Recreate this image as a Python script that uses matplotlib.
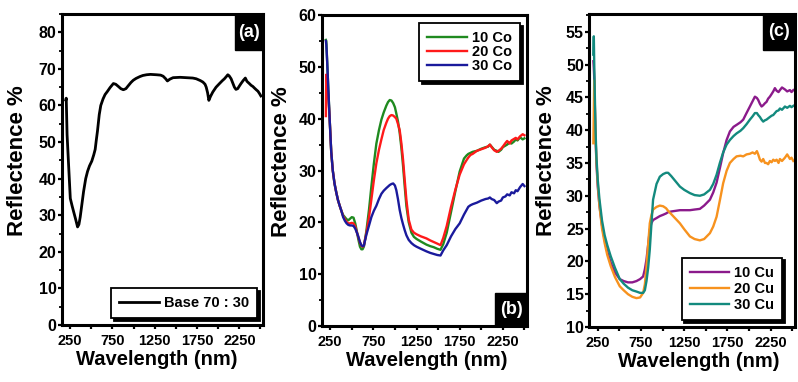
import matplotlib
matplotlib.use("Agg")
import matplotlib.pyplot as plt
from matplotlib.patches import Rectangle
from matplotlib.ticker import MultipleLocator
from matplotlib import font_manager

# ---- panel (a): base glass ----
wl_a = [200, 205, 215, 233, 253, 275, 292, 315, 339, 355, 370, 390, 410, 435, 457, 480,
        507, 530, 547, 560, 574, 595, 613, 640, 664, 690, 723, 762, 790, 821, 850, 880,
        910, 938, 970, 997, 1030, 1075, 1110, 1154, 1200, 1271, 1320, 1350, 1380, 1400,
        1430, 1467, 1550, 1624, 1700, 1741, 1790, 1820, 1845, 1859, 1875, 1890, 1910,
        1937, 1975, 2016, 2050, 2074, 2100, 2114, 2130, 2153, 2175, 2192, 2210, 2231,
        2250, 2270, 2295, 2321, 2340, 2368, 2390, 2410, 2427, 2450, 2470, 2490, 2505]
base_7030 = [61.5, 62.0, 52, 43.7, 34.6, 32.5, 31, 29, 26.8, 27.5, 29.5, 33, 36.5, 40, 42,
             43.5, 44.8, 46.5, 48, 50.5, 53, 57.5, 60, 61.8, 63, 63.8, 64.9, 66, 65.8,
             65.2, 64.6, 64.3, 64.6, 65.4, 66.3, 66.9, 67.4, 67.9, 68.2, 68.4, 68.5, 68.4,
             68.3, 68.0, 67.3, 66.7, 67.2, 67.6, 67.7, 67.6, 67.5, 67.3, 66.8, 66.4, 65.8,
             65.0, 63.5, 61.4, 62.5, 63.7, 65, 66, 66.8, 67.3, 68.0, 68.4, 68.1, 67.3, 66,
             65, 64.4, 64.6, 65.3, 66, 66.8, 67.5, 66.6, 66, 65.5, 65.2, 64.8, 64.3, 63.9,
             63.2, 62.6]

# ---- panel (b): Co doped ----
wl_b = [200, 205, 215, 230, 245, 262, 280, 300, 320, 340, 360, 380, 400, 420, 440, 460,
        480, 500, 520, 540, 555, 575, 595, 611, 625, 640, 669, 700, 727, 755, 785, 815,
        843, 870, 900, 920, 940, 960, 980, 1000, 1016, 1035, 1055, 1075, 1094, 1113,
        1133, 1160, 1191, 1220, 1250, 1300, 1365, 1410, 1450, 1490, 1528, 1560, 1600,
        1650, 1700, 1750, 1800, 1830, 1850, 1875, 1900, 1950, 2000, 2050, 2080, 2100,
        2120, 2150, 2180, 2200, 2230, 2250, 2280, 2300, 2330, 2350, 2380, 2400, 2420,
        2450, 2480, 2500]
co_10 = [55.2, 55.0, 51, 45, 39.5, 33.6, 30, 27.5, 25.8, 24.3, 23.2, 22.2, 21.4, 21.0,
         20.6, 20.4, 20.7, 21.0, 20.9, 19.8, 18.6, 16.8, 15.3, 14.8, 14.8, 15.3, 18.3,
         22.5, 26.9, 31.2, 35.2, 37.8, 39.8, 41.2, 42.5, 43.2, 43.6, 43.5, 43.0, 42.2,
         41.0, 39.5, 37.3, 34.3, 30.9, 27.0, 23.1, 20.0, 18.0, 17.2, 16.8, 16.3, 15.7,
         15.4, 15.2, 14.9, 14.7, 15.8, 18.0, 22.0, 26.0, 29.8, 32.3, 32.9, 33.2, 33.4,
         33.6, 33.8, 34.2, 34.5, 34.6, 35.0, 34.6, 34.0, 33.8, 33.6, 34.0, 34.5, 34.8,
         35.0, 35.4, 35.2, 35.6, 36.0, 35.8, 36.4, 36.0, 36.2]
co_20 = [40.5, 48.5, 47, 44, 39.5, 33.6, 30, 27.5, 25.8, 24.3, 23.2, 22.2, 21.2, 20.6,
         20.1, 19.8, 19.8, 19.9, 19.8, 19.2, 18.3, 17.2, 16.1, 15.5, 15.3, 15.5, 17.9,
         21.0, 24.4, 28.0, 31.4, 34.0, 36.0, 37.8, 39.2, 40.0, 40.5, 40.7, 40.6, 40.3,
         40.0, 39.0, 37.8, 35.2, 32.1, 28.2, 24.3, 20.5, 18.6, 18.0, 17.7, 17.3, 16.9,
         16.5, 16.2, 15.9, 15.6, 17.0, 19.3, 23.0, 26.3, 29.2, 31.2, 32.0, 32.5, 33.0,
         33.2, 33.8, 34.1, 34.4, 34.7, 35.0, 34.5, 33.9, 33.6, 33.8, 34.2, 34.6, 35.3,
         35.7, 35.2, 35.8, 36.1, 36.3, 36.0, 36.6, 37.0, 36.8]
co_30 = [55.0, 54.3, 51, 45, 39.5, 33.6, 30, 27.5, 25.8, 24.3, 23.2, 22.2, 21.0, 20.3,
         19.8, 19.5, 19.4, 19.4, 19.3, 18.8, 18.2, 17.3, 16.2, 15.6, 15.4, 15.5, 17.6,
         19.4, 21.0, 22.2, 23.2, 24.5, 25.5, 26.1, 26.6, 26.9, 27.2, 27.4, 27.5, 27.1,
         26.2, 24.5, 22.4, 20.8, 19.6, 18.5, 17.5, 16.6, 16.0, 15.6, 15.3, 14.9, 14.4,
         14.1, 13.9, 13.7, 13.6, 14.6, 15.6, 17.3, 18.7, 19.8, 21.5, 22.4, 23.0, 23.3,
         23.5, 23.8, 24.2, 24.5, 24.6, 24.8, 24.5, 24.3, 23.7, 24.0, 24.2, 24.8, 25.0,
         25.4, 25.2, 25.8, 25.6, 26.2, 26.0, 26.8, 27.4, 27.0]

# ---- panel (c): Cu doped ----
wl_c = [200, 205, 210, 218, 225, 235, 250, 270, 300, 330, 360, 400, 450, 505, 550, 600,
        650, 698, 740, 775, 795, 814, 833, 852, 870, 890, 930, 968, 1006, 1040, 1064,
        1100, 1150, 1200, 1250, 1316, 1370, 1431, 1480, 1547, 1585, 1624, 1662, 1700,
        1740, 1778, 1820, 1855, 1900, 1932, 1970, 2009, 2040, 2067, 2090, 2105, 2125,
        2144, 2163, 2183, 2201, 2220, 2240, 2260, 2279, 2298, 2318, 2340, 2356, 2380,
        2414, 2440, 2472, 2490, 2511]
cu_10 = [50.5, 49.5, 48, 43, 39, 35, 31.5, 28.5, 25.5, 23.3, 21.5, 19.8, 18.3, 17.3,
         17.0, 16.8, 16.8, 17.0, 17.3, 17.7, 18.8, 20.3, 22.5, 24.8, 25.8, 26.3, 26.6,
         26.9, 27.1, 27.3, 27.5, 27.6, 27.7, 27.8, 27.8, 27.8, 27.9, 28.0, 28.5, 29.4,
         30.5, 32.0, 34.2, 36.5, 38.5, 39.8, 40.5, 40.8, 41.2, 41.6, 42.6, 43.6, 44.4,
         45.1, 44.9, 44.6, 44.0, 43.6, 43.8, 44.1, 44.3, 44.8, 45.1, 45.5, 45.9, 46.4,
         46.0, 45.8, 46.1, 46.5, 46.2, 45.9, 46.1, 45.8, 46.1]
cu_20 = [38.0, 43, 47.6, 43, 39, 35.5, 32, 28.5, 25, 22.8, 21.0, 19.3, 17.6, 16.2, 15.6,
         15.0, 14.6, 14.4, 14.5, 15.2, 16.5, 19.2, 22.5, 25.8, 27.0, 27.9, 28.3, 28.5,
         28.4, 28.1, 27.7, 27.2, 26.5, 25.8, 24.9, 23.8, 23.4, 23.2, 23.4, 24.3, 25.3,
         26.8, 29.3, 31.9, 33.8, 35.0, 35.6, 36.0, 36.1, 36.0, 36.3, 36.4, 36.6, 36.4,
         36.8, 36.3, 35.5, 35.2, 35.6, 35.0, 35.0, 34.8, 35.3, 35.1, 35.5, 35.3, 35.5,
         35.0, 35.6, 35.3, 35.8, 36.3, 35.6, 35.8, 35.3]
cu_30 = [51.5, 54.3, 50, 44.5, 40, 36, 32.5, 29.5, 26.2, 24, 22.5, 20.8, 19, 17.3, 16.6,
         16.0, 15.6, 15.4, 15.2, 15.2, 15.6, 17.0, 19.0, 21.8, 25.5, 29.4, 31.8, 32.9,
         33.3, 33.5, 33.5, 33.0, 32.2, 31.4, 30.9, 30.4, 30.1, 30.0, 30.2, 30.9, 31.8,
         33.2, 35.0, 36.6, 37.8, 38.5, 39.1, 39.5, 39.9, 40.3, 40.9, 41.6, 42.1, 42.6,
         42.6, 42.3, 42.0, 41.6, 41.3, 41.5, 41.6, 41.8, 42.0, 42.2, 42.3, 42.6, 42.9,
         43.0, 43.3, 43.1, 43.6, 43.4, 43.7, 43.5, 43.7]

xticks = [250, 750, 1250, 1750, 2250]
xtick_labels = ["250", "750", "1250", "1750", "2250"]

names = {f.name for f in font_manager.fontManager.ttflist}
narrow = "Liberation Sans Narrow" if "Liberation Sans Narrow" in names else "Liberation Sans"

plt.rcParams["font.family"] = ["Liberation Sans", "DejaVu Sans"]
plt.rcParams["font.weight"] = "bold"
plt.rcParams["axes.linewidth"] = 2.2

fig = plt.figure(figsize=(7.98, 3.82), dpi=100)
ax_a = fig.add_axes([0.0777, 0.1492, 0.2519, 0.8141])
ax_b = fig.add_axes([0.4035, 0.1466, 0.2569, 0.8141])
ax_c = fig.add_axes([0.7387, 0.1440, 0.2575, 0.8194])


def style(ax, ylim, ymajor, yminor, lab_x, xl_x):
    ax.set_xlim(155, 2530)
    ax.set_ylim(*ylim)
    ax.set_xticks(xticks, labels=xtick_labels, fontfamily=narrow, fontsize=10.5,
                  fontweight="bold")
    ax.xaxis.set_minor_locator(MultipleLocator(250))
    ax.yaxis.set_major_locator(MultipleLocator(ymajor))
    ax.yaxis.set_minor_locator(MultipleLocator(yminor))
    ax.tick_params(axis="x", which="both", direction="out", length=3, width=1.6, pad=3.5)
    ax.tick_params(axis="y", which="major", direction="out", length=3, width=1.6,
                   pad=1, labelsize=11.5)
    ax.tick_params(axis="y", which="minor", direction="out", length=2, width=1.3)
    ax.set_ylabel("Reflectence %", fontsize=16, fontweight="bold")
    ax.yaxis.set_label_coords(lab_x, 0.53)
    ax.set_xlabel("Wavelength (nm)", fontsize=14.5, fontweight="bold")
    ax.xaxis.set_label_coords(xl_x, -0.08)
    ax.xaxis.label.set_va("top")


def tag(ax, text, x0, y0, w, h):
    ax.add_patch(Rectangle((x0, y0), w, h, transform=ax.transAxes, color="black",
                           zorder=5, clip_on=False))
    ax.text(x0 + w / 2, y0 + h / 2, text, transform=ax.transAxes, color="white",
            fontsize=13, fontweight="bold", ha="center", va="center", zorder=6)


def legend(ax, loc, anchor, spacing):
    leg = ax.legend(loc=loc, bbox_to_anchor=anchor, borderaxespad=0, frameon=True,
                    fancybox=False, edgecolor="black", framealpha=1,
                    shadow={"color": "black", "alpha": 1},
                    prop={"weight": "bold", "size": 10.5}, handlelength=2.7,
                    handletextpad=0.35, labelspacing=spacing, borderpad=0.55)
    leg.get_frame().set_linewidth(1.3)


# (a)
ax_a.plot(wl_a, base_7030, color="black", lw=2.0, label="Base 70 : 30")
style(ax_a, (0, 85), 10, 5, -0.17, 0.47)
legend(ax_a, "lower right", (0.97, 0.0225), 0.1)
tag(ax_a, "(a)", 0.86, 0.884, 0.14, 0.116)

# (b)
ax_b.plot(wl_b, co_10, color="#1f8a1f", lw=1.7, label="10 Co")
ax_b.plot(wl_b, co_20, color="#ff1a1a", lw=1.7, label="20 Co")
ax_b.plot(wl_b, co_30, color="#1a1a9c", lw=1.7, label="30 Co")
style(ax_b, (0, 60), 10, 5, -0.145, 0.51)
legend(ax_b, "upper right", (0.966, 0.974), 0.0)
tag(ax_b, "(b)", 0.845, 0.0, 0.155, 0.105)

# (c)
ax_c.plot(wl_c, cu_10, color="#8b1a8b", lw=1.7, label="10 Cu")
ax_c.plot(wl_c, cu_20, color="#f7921e", lw=1.7, label="20 Cu")
ax_c.plot(wl_c, cu_30, color="#138a7e", lw=1.7, label="30 Cu")
style(ax_c, (10, 57.7), 5, 2.5, -0.158, 0.53)
legend(ax_c, "lower right", (0.937, 0.022), 0.15)
tag(ax_c, "(c)", 0.845, 0.885, 0.155, 0.115)

fig.savefig("out.png", dpi=100)
